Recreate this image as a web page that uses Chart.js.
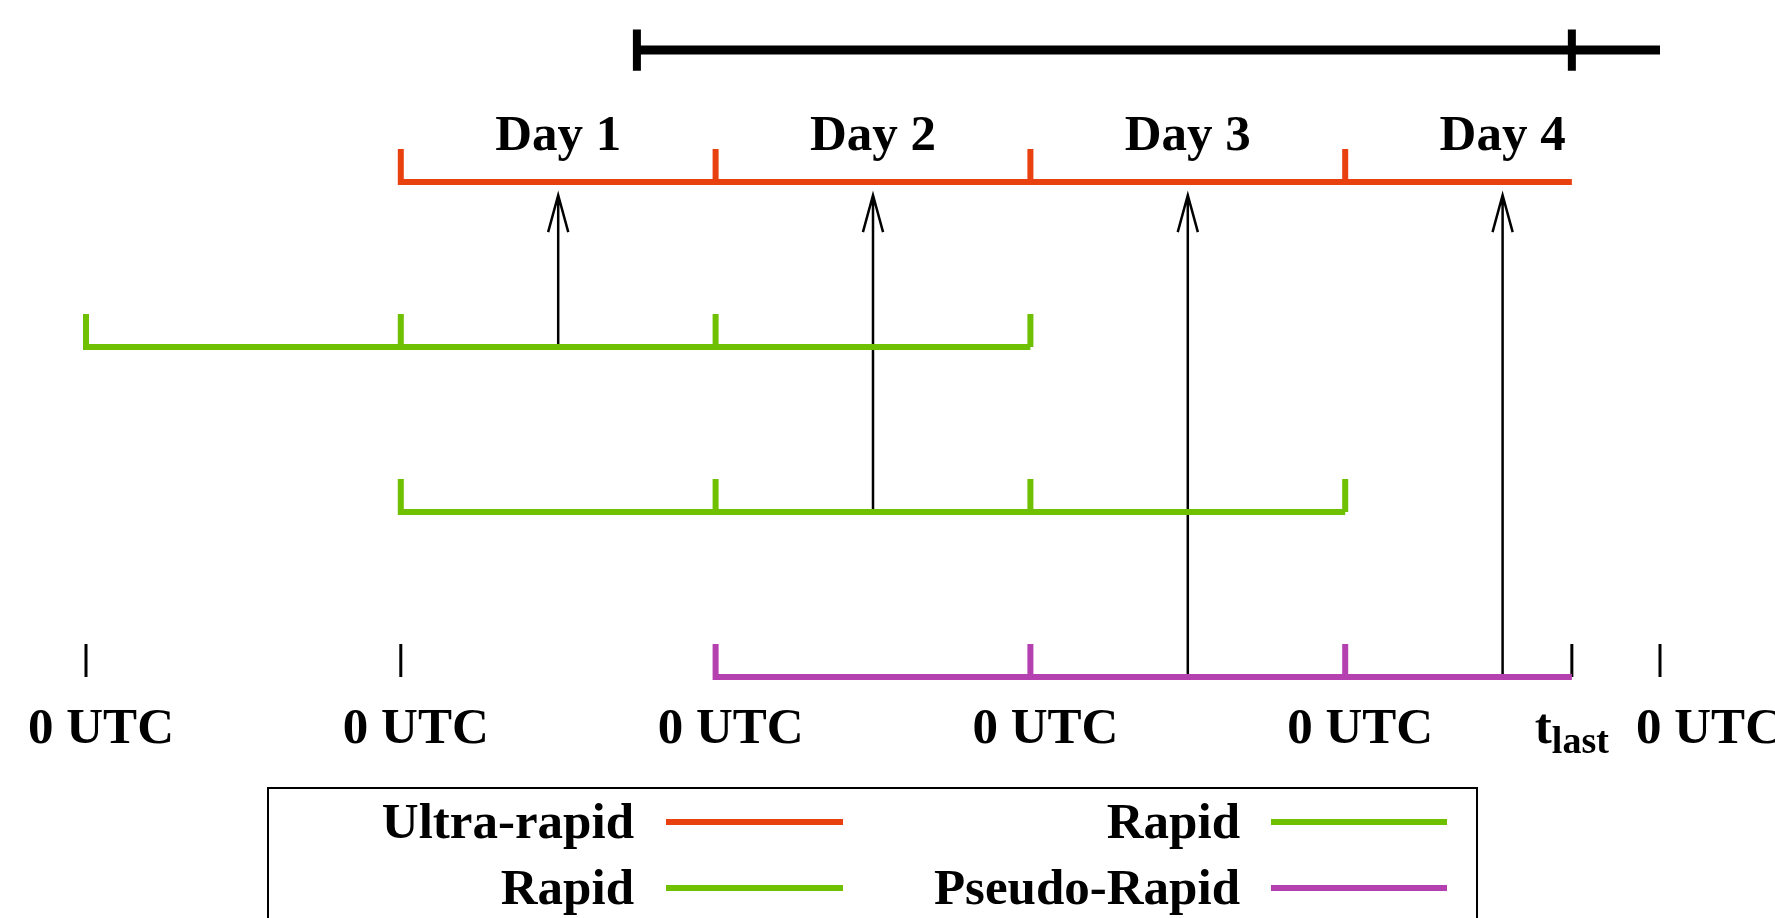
<!DOCTYPE html>
<html><head><meta charset="utf-8">
<script src="https://cdn.jsdelivr.net/npm/chart.js@4/dist/chart.umd.min.js"></script>
<style>html,body{margin:0;padding:0;background:#fff;overflow:hidden}
#wrap{width:1775px;height:918px;position:relative}</style>
</head><body><div id="wrap"><canvas id="c" width="1775" height="918"></canvas></div>
<script>
// ---------- data (x in days from the first 0 UTC, y = row level) ----------
const utcTicks = [0, 1, 2, 3, 4, 5];
const utcLabels = ['0 UTC', '0 UTC', '0 UTC', '0 UTC', '0 UTC', '0 UTC'];
const tLast = 4.72;
const tLastLabel = ['t', 'last'];
const dayLabels = ['Day 1', 'Day 2', 'Day 3', 'Day 4'];
const dayCenters = [1.5, 2.5, 3.5, 4.5];
const seriesNames = ['Ultra-rapid', 'Rapid', 'Rapid', 'Pseudo-Rapid'];
const seriesLevels = [4, 3, 2, 1];
const ultraSpan = [1, tLast];
const ultraTicks = [2, 3, 4];
const rapidASpan = [0, 3];
const rapidATicks = [1, 2, 3];
const rapidBSpan = [1, 4];
const rapidBTicks = [2, 3, 4];
const pseudoSpan = [2, tLast];
const pseudoTicks = [3, 4];
const windowSpan = [1.75, 5];
const windowTicks = [1.75, tLast];
const windowLevel = 4.8;
const baseTicks = [0, 1, tLast, 5];
const arrowX = [1.5, 2.5, 3.5, 4.5];
const arrowFromLevel = [3, 2, 1, 1];
const arrowToLevel = 3.92;
const dayLabelLevel = 4.194;
const utcLabelLevel = 0.6;

// ---------- style ----------
const seriesColors = ['#e8400f', '#6ec000', '#6ec000', '#b540b0'];
const tickH = 0.2, windowTickH = 0.125, baseTickH = 0.2;
const headDX = 0.032, headDY = 0.224;
const FONT = '"Liberation Serif", "Times New Roman", serif';
const utcShiftPx = [15, 15, 15, 15, 15, 49];

// series = start tick + baseline (one polyline), then the remaining ticks
function bracket(span, ticks, level) {
  const pts = [{x: span[0], y: level + tickH}, {x: span[0], y: level}, {x: span[1], y: level}, {x: span[1], y: null}];
  ticks.forEach(t => pts.push({x: t, y: level}, {x: t, y: level + tickH}, {x: t, y: null}));
  return pts;
}
function crossTicks(ticks, level, h) {
  const pts = [];
  ticks.forEach(t => pts.push({x: t, y: level - h}, {x: t, y: level + h}, {x: t, y: null}));
  return pts;
}
const spans = [ultraSpan, rapidASpan, rapidBSpan, pseudoSpan];
const tickSets = [ultraTicks, rapidATicks, rapidBTicks, pseudoTicks];

const arrowPts = [];
arrowX.forEach((x, i) => {
  arrowPts.push({x, y: arrowFromLevel[i]}, {x, y: arrowToLevel}, {x, y: null});
  arrowPts.push({x: x - headDX, y: arrowToLevel - headDY}, {x, y: arrowToLevel},
                {x: x + headDX, y: arrowToLevel - headDY}, {x, y: null});
});
const basePts = [];
baseTicks.forEach(t => basePts.push({x: t, y: seriesLevels[3]}, {x: t, y: seriesLevels[3] + baseTickH}, {x: t, y: null}));

const common = {pointRadius: 0, pointHoverRadius: 0, tension: 0, fill: false, spanGaps: false};
const datasets = [];
seriesNames.forEach((n, i) => datasets.push(Object.assign({
  label: n, data: bracket(spans[i], tickSets[i], seriesLevels[i]),
  borderColor: seriesColors[i], borderWidth: 6, borderCapStyle: 'butt', borderJoinStyle: 'miter'
}, common)));
datasets.push(Object.assign({label: '_arrows', data: arrowPts, borderColor: '#000', borderWidth: 2.5,
  borderCapStyle: 'butt', borderJoinStyle: 'miter'}, common));
datasets.push(Object.assign({label: '_base', data: basePts, borderColor: '#000', borderWidth: 3,
  borderCapStyle: 'butt'}, common));
datasets.push(Object.assign({label: '_window', data: [{x: windowSpan[0], y: windowLevel}, {x: windowSpan[1], y: windowLevel}],
  borderColor: '#000', borderWidth: 9, borderCapStyle: 'butt'}, common));
datasets.push(Object.assign({label: '_windowTicks', data: crossTicks(windowTicks, windowLevel, windowTickH),
  borderColor: '#000', borderWidth: 8, borderCapStyle: 'butt'}, common));

const textPlugin = {
  id: 'texts',
  afterDatasetsDraw(chart) {
    const ctx = chart.ctx, xs = chart.scales.x, ys = chart.scales.y;
    ctx.save();
    ctx.fillStyle = '#000';
    ctx.textBaseline = 'alphabetic';
    ctx.font = 'bold 51px ' + FONT;
    ctx.textAlign = 'center';
    dayLabels.forEach((t, i) => ctx.fillText(t, xs.getPixelForValue(dayCenters[i]), ys.getPixelForValue(dayLabelLevel)));
    const by = ys.getPixelForValue(utcLabelLevel);
    utcLabels.forEach((t, i) => ctx.fillText(t, xs.getPixelForValue(utcTicks[i]) + utcShiftPx[i], by));
    // t_last
    ctx.textAlign = 'left';
    const big = 'bold 51px ' + FONT, small = 'bold 38px ' + FONT;
    ctx.font = big; const w1 = ctx.measureText(tLastLabel[0]).width;
    ctx.font = small; const w2 = ctx.measureText(tLastLabel[1]).width;
    const x0 = xs.getPixelForValue(tLast) - (w1 + w2) / 2;
    ctx.font = big; ctx.fillText(tLastLabel[0], x0, by);
    ctx.font = small; ctx.fillText(tLastLabel[1], x0 + w1, by + 10);
    // legend
    const L = {left: 268, top: 788, right: 1477, bottom: 1100};
    ctx.strokeStyle = '#000'; ctx.lineWidth = 2;
    ctx.strokeRect(L.left, L.top, L.right - L.left, L.bottom - L.top);
    const cols = [{textRight: 634, l0: 666, l1: 843}, {textRight: 1240, l0: 1271, l1: 1447}];
    const rowBase = [838, 904];
    ctx.font = big; ctx.textAlign = 'right';
    seriesNames.forEach((n, i) => {
      const c = cols[Math.floor(i / 2)], yb = rowBase[i % 2];
      ctx.fillStyle = '#000';
      ctx.fillText(n, c.textRight, yb);
      ctx.strokeStyle = seriesColors[i]; ctx.lineWidth = 6; ctx.lineCap = 'butt';
      ctx.beginPath(); ctx.moveTo(c.l0, yb - 16); ctx.lineTo(c.l1, yb - 16); ctx.stroke();
    });
    ctx.restore();
  }
};

// x: day 0 -> 86px, 314.8 px/day ; y: level 1 -> 677px, 165 px/level
new Chart(document.getElementById('c'), {
  type: 'line',
  data: {datasets},
  options: {
    responsive: false, animation: false, devicePixelRatio: 1,
    layout: {padding: 0},
    plugins: {legend: {display: false}, tooltip: {enabled: false}},
    events: [],
    scales: {
      x: {type: 'linear', display: false, min: -86 / 314.8, max: (1775 - 86) / 314.8},
      y: {type: 'linear', display: false, min: 1 - 241 / 165, max: 1 + 677 / 165}
    },
    elements: {line: {clip: false}}
  },
  plugins: [textPlugin]
});
</script></body></html>
